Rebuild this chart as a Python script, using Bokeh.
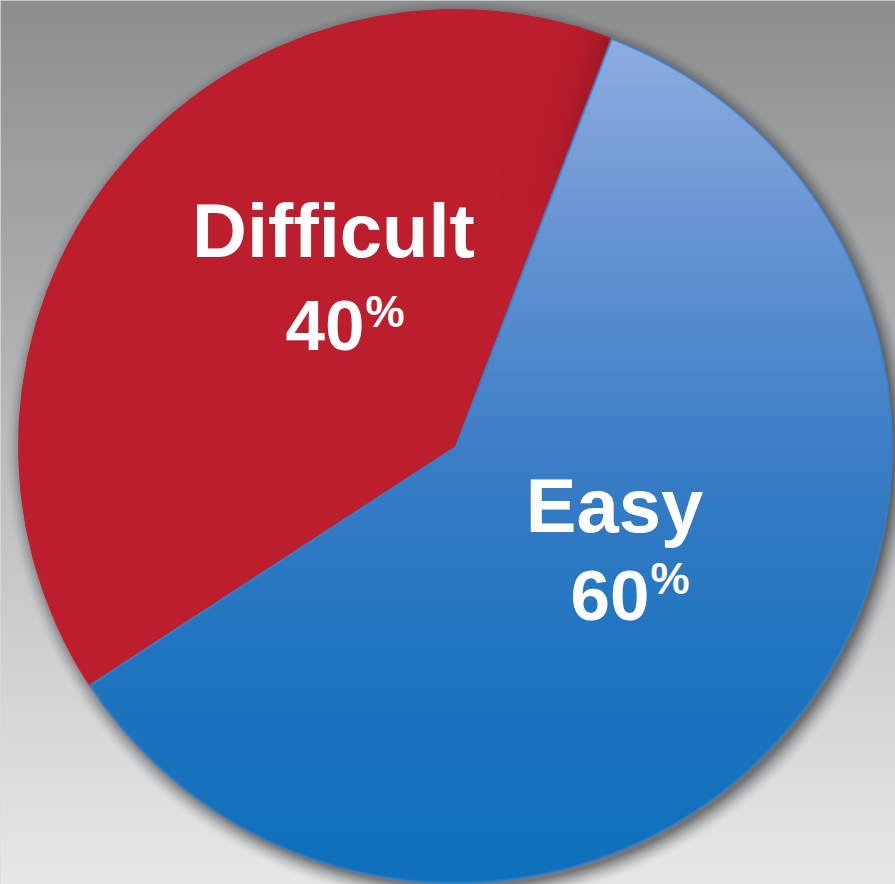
import numpy as np
from bokeh.plotting import figure
from bokeh.models import Range1d, ColumnDataSource
from bokeh.embed import file_html
from bokeh.resources import INLINE
from bokeh.core.properties import value

# ---- data -------------------------------------------------------------
categories = ["Difficult", "Easy"]
shares = [40, 60]
pct_text = ["40", "60"]
slice_colors = ["#BD1E2D", "#3A7FC6"]

# ---- layout -----------------------------------------------------------
W, H = 895, 884
CX, CY, R = 455.0, H - 446.0, 437.0
START_DEG = 69.1          # first slice begins here, running anticlockwise
FONT = "Liberation Sans"
BASE_SHIFT = 0.39         # svg text sits this many em below the alphabetic baseline

frac = np.array(shares, dtype=float) / sum(shares)
cum = np.concatenate([[0.0], np.cumsum(frac)])
starts = np.radians(START_DEG) + 2 * np.pi * cum[:-1]
ends = np.radians(START_DEG) + 2 * np.pi * cum[1:]

# ---- raster layers: backdrop with drop shadow, slice shading ----------
yy, xx = np.mgrid[0:H, 0:W].astype(float) + 0.5
py = H - yy                                   # distance from top edge

# grey backdrop, darker towards the top
t = np.clip(py / H, 0, 1)
top_c = np.array([141, 142, 146], dtype=float)
bot_c = np.array([231, 232, 234], dtype=float)
bg = top_c[None, None, :] + (bot_c - top_c)[None, None, :] * t[..., None]

# soft shadow under the disc, offset down/right
ds = np.hypot(xx - (CX + 4), yy - (CY - 6))
sh = 0.48 * np.clip(1 - (ds - R + 3) / 20.0, 0, 1) ** 1.6
bg = bg * (1 - sh[..., None])

bg_img = np.empty((H, W, 4), dtype=np.uint8)
bg_img[..., :3] = np.clip(bg, 0, 255).astype(np.uint8)
bg_img[..., 3] = 255

# polar coordinates about the centre
dx, dy = xx - CX, yy - CY
dist = np.hypot(dx, dy)
theta = np.arctan2(dy, dx)


def inset_alpha(a0, a1, inset=0.8):
    """Coverage of a wedge shrunk slightly so the vector wedge keeps the edge."""
    span = (a1 - a0) % (2 * np.pi)
    rel = (theta - a0) % (2 * np.pi)
    inside = rel < span
    d1 = np.where(rel < np.pi / 2, dist * np.sin(np.minimum(rel, np.pi / 2)), dist)
    r2 = span - rel
    d2 = np.where(r2 < np.pi / 2, dist * np.sin(np.clip(r2, 0, np.pi / 2)), dist)
    m = np.minimum(np.minimum(R - dist, d1), d2) - inset
    return np.where(inside, np.clip(m, 0, 1), 0.0)


# vertical blue gradient over the "Easy" slice
stops_y = [30, 200, 450, 650, 884]
stops_c = [(143, 175, 225), (110, 152, 213), (60, 126, 199), (32, 117, 192), (15, 112, 187)]
blue = np.stack([np.interp(py, stops_y, [c[k] for c in stops_c]) for k in range(3)], axis=-1)
a_easy = inset_alpha(starts[1], ends[1])

# darker fold along the upper edge of the "Difficult" slice
a_red = inset_alpha(starts[0], ends[0])
rel0 = (theta - starts[0]) % (2 * np.pi)
edge_d = dist * np.sin(np.clip(rel0, 0, np.pi / 2))
fold = 0.5 * np.exp(-edge_d / 16.0) * np.clip((dist - 0.5 * R) / (0.5 * R), 0, 1)
fold = fold * a_red

ov = np.zeros((H, W, 4), dtype=np.uint8)
col = blue.copy()
alpha = a_easy.copy()
dark = np.array([110, 14, 24], dtype=float)
col = np.where(fold[..., None] > 0, dark[None, None, :], col)
alpha = np.where(fold > 0, fold, alpha)
ov[..., :3] = np.clip(col, 0, 255).astype(np.uint8)
ov[..., 3] = np.clip(alpha * 255, 0, 255).astype(np.uint8)

# ---- figure -----------------------------------------------------------
p = figure(width=W, height=H, x_range=Range1d(0, W), y_range=Range1d(0, H),
           output_backend="svg", toolbar_location=None, min_border=0,
           x_axis_type=None, y_axis_type=None)
p.grid.visible = False
p.outline_line_color = None
p.background_fill_color = "#B8B9BC"
p.border_fill_color = "#B8B9BC"

p.image_rgba(image=[bg_img.view(np.uint32).reshape(H, W)], x=0, y=0, dw=W, dh=H)

src = ColumnDataSource(dict(cat=categories, share=shares, start=starts, end=ends,
                            color=slice_colors))
p.wedge(x=CX, y=CY, radius=R, start_angle="start", end_angle="end",
        fill_color="color", line_color="color", line_width=1, source=src)

p.image_rgba(image=[ov.view(np.uint32).reshape(H, W)], x=0, y=0, dw=W, dh=H)

# ---- labels -----------------------------------------------------------
name_x = [333, 614]
name_base = [260, 535]          # baselines, measured from the top
num_right = [364, 649]
num_base = [353, 623]
pct_left = [365, 650]
pct_base = [328, 595]

NAME_PX, NUM_PX, PCT_PX = 76, 71, 44


def ys(bases, size):
    return [H - (b - BASE_SHIFT * size) for b in bases]


p.text(x=name_x, y=ys(name_base, NAME_PX), text=categories,
       text_font=value(FONT), text_font_style="bold", text_font_size=f"{NAME_PX}px",
       text_color="white", text_align="center", text_baseline="alphabetic")
p.text(x=num_right, y=ys(num_base, NUM_PX), text=pct_text,
       text_font=value(FONT), text_font_style="bold", text_font_size=f"{NUM_PX}px",
       text_color="white", text_align="right", text_baseline="alphabetic")
p.text(x=pct_left, y=ys(pct_base, PCT_PX), text=["%", "%"],
       text_font=value(FONT), text_font_style="bold", text_font_size=f"{PCT_PX}px",
       text_color="white", text_align="left", text_baseline="alphabetic")

open("out.html", "w").write(file_html(p, INLINE))
